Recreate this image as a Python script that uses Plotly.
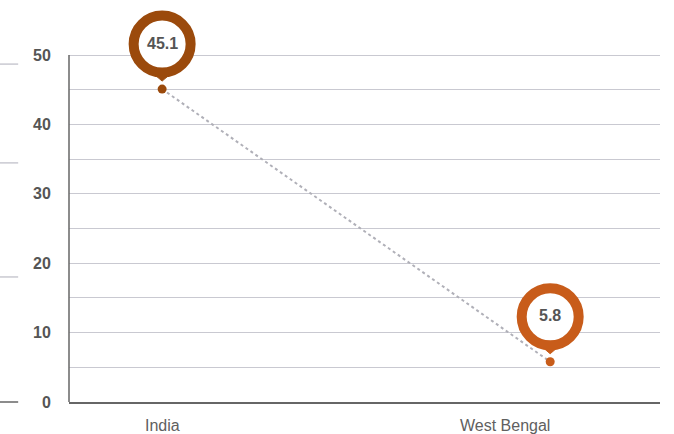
import plotly.graph_objects as go

categories = ["India", "West Bengal"]
values = [45.1, 5.8]
pin_colors = ["#9b4a0c", "#c85c1a"]
y_ticks = [0, 10, 20, 30, 40, 50]
y_minor = [5, 15, 25, 35, 45]

font_family = "Liberation Sans, Arial, sans-serif"
text_grey = "#555555"
grid_grey = "#c9c9d1"
axis_grey = "#666666"

fig = go.Figure()

# dotted connector between the two points
fig.add_trace(go.Scatter(x=[0, 1], y=values, mode="lines",
                         line=dict(color="#b0b0b8", width=2, dash="dot"),
                         hoverinfo="skip", showlegend=False))
# data dots
fig.add_trace(go.Scatter(x=[0, 1], y=values, mode="markers",
                         marker=dict(color=pin_colors, size=9),
                         showlegend=False))

# map-pin style callouts above each point
for i, (v, c) in enumerate(zip(values, pin_colors)):
    fig.add_shape(type="circle", xref="x", yref="y",
                  xsizemode="pixel", ysizemode="pixel",
                  xanchor=i, yanchor=v,
                  x0=-28.5, x1=28.5, y0=45 - 28.5, y1=45 + 28.5,
                  line=dict(color=c, width=10), fillcolor="white", layer="above")
    fig.add_shape(type="path", xref="x", yref="y",
                  xsizemode="pixel", ysizemode="pixel",
                  xanchor=i, yanchor=v,
                  path="M -7 14 L 7 14 L 0 8 Z",
                  line=dict(color=c, width=1), fillcolor=c, layer="above")
    fig.add_annotation(x=i, y=v, yshift=46, text="%s" % v, showarrow=False,
                       font=dict(size=16, color=text_grey, family=font_family, weight="bold"))

# category labels
label_shift = [0, -45]
for i, name in enumerate(categories):
    fig.add_annotation(x=i, y=0, yref="y", yshift=-23, xshift=label_shift[i],
                       text=name, showarrow=False,
                       font=dict(size=16, color="#606060", family=font_family))

# y axis line only up to the top tick
fig.add_shape(type="line", xref="paper", yref="paper", x0=0, x1=0, y0=0, y1=0.885,
              line=dict(color=axis_grey, width=1.5))

# short decorative strokes at far left
for yp, col in [(0.862, grid_grey), (0.610, grid_grey), (0.319, grid_grey), (0.0, axis_grey)]:
    fig.add_shape(type="line", xref="paper", yref="paper",
                  x0=-0.117, x1=-0.086, y0=yp, y1=yp,
                  line=dict(color=col, width=1.5))

fig.update_layout(
    width=674, height=434,
    margin=dict(l=69, r=14, t=10, b=32),
    plot_bgcolor="white", paper_bgcolor="white",
    font=dict(family=font_family, color=text_grey),
    showlegend=False,
    xaxis=dict(range=[-0.24, 1.283], showticklabels=False, showgrid=False,
               zeroline=False, showline=True, linecolor=axis_grey, linewidth=1.5),
    yaxis=dict(range=[0, 56.5], tickvals=y_ticks,
               tickfont=dict(size=16, color=text_grey, family=font_family, weight="bold"),
               ticks="outside", ticklen=14, tickcolor="white",
               showgrid=True, gridcolor=grid_grey, gridwidth=1,
               minor=dict(tickvals=y_minor, showgrid=True, gridcolor=grid_grey, gridwidth=1),
               zeroline=False, showline=False),
)

fig.write_html("out.html", config={"displayModeBar": False},
               post_script="document.body.style.margin='0';")
